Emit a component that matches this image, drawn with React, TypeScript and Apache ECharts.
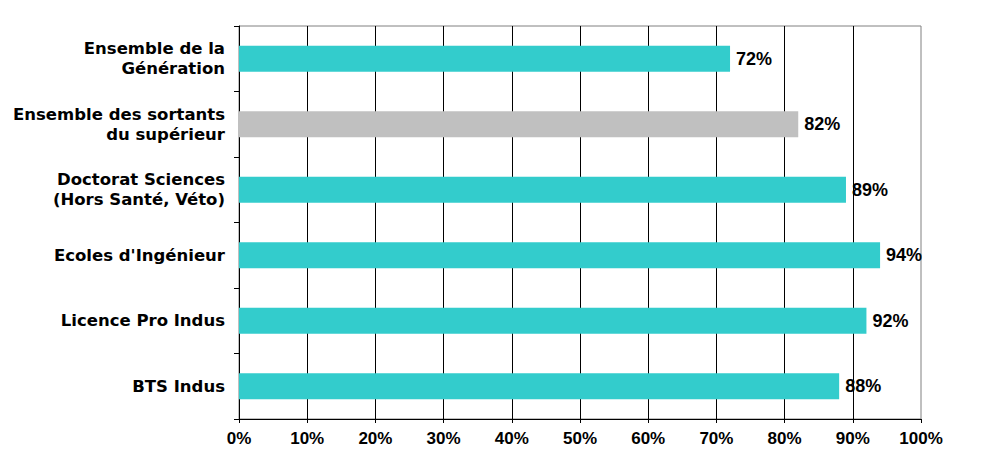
import React, { useEffect, useRef } from "react";
import * as echarts from "echarts";

const categories = [
  "Ensemble de la\nGénération",
  "Ensemble des sortants\ndu supérieur",
  "Doctorat Sciences\n(Hors Santé, Véto)",
  "Ecoles d'Ingénieur",
  "Licence Pro Indus",
  "BTS Indus",
];
const values = [72, 82, 89, 94, 92, 88];
const highlightIndex = 1;

export default function App() {
  const ref = useRef<HTMLDivElement>(null);
  useEffect(() => {
    document.body.style.margin = "0";
    const chart = echarts.init(ref.current!, null, { renderer: "svg" });
    chart.setOption({
      animation: false,
      backgroundColor: "#ffffff",
      grid: {
        left: 239,
        right: 65,
        top: 26,
        bottom: 47,
        containLabel: false,
        outerBoundsMode: "none",
        show: true,
        borderColor: "#808080",
        borderWidth: 1,
        backgroundColor: "transparent",
      },
      xAxis: {
        type: "value",
        min: 0,
        max: 100,
        interval: 10,
        axisLine: { show: true, lineStyle: { color: "#000", width: 1 } },
        axisTick: { show: true, length: 4, lineStyle: { color: "#000" } },
        axisLabel: {
          formatter: "{value}%",
          fontFamily: "Liberation Sans",
          fontWeight: "bold",
          fontSize: 17,
          color: "#000",
          margin: 11,
        },
        splitLine: {
          show: true,
          showMinLine: false,
          showMaxLine: false,
          lineStyle: { color: "#000", width: 1 },
        },
      },
      yAxis: {
        type: "category",
        inverse: true,
        data: categories,
        axisLine: { show: true, lineStyle: { color: "#000", width: 1 } },
        axisTick: { show: true, length: 5, lineStyle: { color: "#000" } },
        axisLabel: {
          fontFamily: "DejaVu Sans",
          fontWeight: "bold",
          fontSize: 16.5,
          lineHeight: 20,
          color: "#000",
          margin: 14,
          align: "right",
        },
        splitLine: { show: false },
      },
      series: [
        {
          type: "bar",
          barWidth: 26,
          data: values.map((v, i) => ({
            value: v,
            itemStyle: { color: i === highlightIndex ? "#C0C0C0" : "#33CCCC" },
          })),
          label: {
            show: true,
            position: "right",
            distance: 6,
            formatter: "{c}%",
            fontFamily: "Liberation Sans",
            fontWeight: "bold",
            fontSize: 18,
            color: "#000",
          },
        },
      ],
    });
    return () => chart.dispose();
  }, []);
  return <div ref={ref} style={{ width: 986, height: 466 }} />;
}
